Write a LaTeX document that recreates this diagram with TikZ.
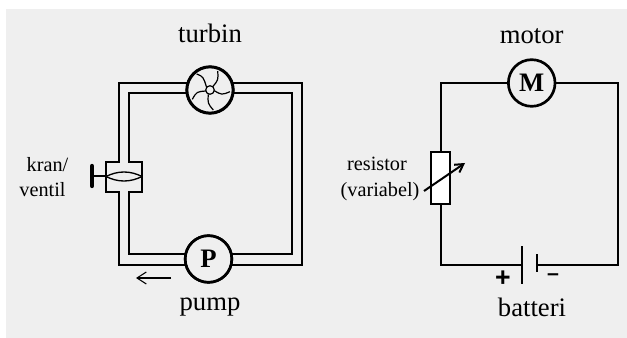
\documentclass[tikz,border=0pt]{standalone}
\usepackage{fontspec}
\setmainfont{Liberation Serif}
\newfontfamily\signfont{Liberation Sans}
\usetikzlibrary{arrows.meta}
\definecolor{bgc}{HTML}{EFEFEF}
\tikzset{
  x=0.75pt,y=-0.75pt,
  wire/.style={line width=1.5pt,line join=miter},
  unit/.style={circle,draw,fill=bgc,line width=2pt,minimum size=35pt,inner sep=0pt,outer sep=0pt,font=\fontsize{20}{22}\selectfont\bfseries},
  biglabel/.style={anchor=base,inner sep=0pt,font=\fontsize{20}{22}\selectfont},
  smalllabel/.style={anchor=base,inner sep=0pt,font=\fontsize{15.2}{17}\selectfont},
  blade/.style={line width=0.9pt},
}
\begin{document}
\begin{tikzpicture}
\useasboundingbox (0,0) rectangle (627,338);
\fill[bgc] (6,9) rectangle (627,338);
% left: nodes
\node[unit] (turb) at (210,90) {};
\node[unit] (pump) at (208.5,259) {P};
\coordinate (ot) at (118.5,83);
\coordinate (ob) at (118.5,264.5);
\coordinate (it) at (128.5,93);
\coordinate (ib) at (128.5,254);
\coordinate (vtl) at (106,162.5);
\coordinate (vtr) at (142,162.5);
\coordinate (vbl) at (106,192.3);
\coordinate (vbr) at (142,192.3);
\coordinate (orc) at (302,83);
\coordinate (orb) at (302,264.5);
\coordinate (irc) at (292,93);
\coordinate (irb) at (292,254);
% pipes
\begin{scope}[wire]
\draw (turb.west|-ot) -- (ot) -- (ot|-vtl) -- (vtl) -- (vbl) -- (ob|-vbl) -- (ob) -- (pump.west|-ob);
\draw (turb.west|-it) -- (it) -- (it|-vtr) -- (vtr) -- (vbr) -- (ib|-vbr) -- (ib) -- (pump.west|-ib);
\draw (turb.east|-orc) -- (orc) -- (orb) -- (pump.east|-orb);
\draw (turb.east|-irc) -- (irc) -- (irb) -- (pump.east|-irb);
\end{scope}
% turbine
\begin{scope}[shift={(210,90)},blade]
\fill[bgc] (0,0) circle[radius=22];
\draw[line width=2pt] (0,0) circle[radius=23];
\draw (0,0) circle[radius=4.3];
\draw (2.7,-3.3) .. controls (8.3,-10) .. (7.7,-19);
\draw (-3.3,-2.3) .. controls (-6.7,-13.3) .. (-13.3,-16);
\draw (-4,1) .. controls (-13.3,1.7) .. (-17.7,9.3);
\draw (-1.7,4.3) .. controls (-2.3,13.3) .. (3.3,20);
\draw (4.3,0.7) .. controls (11.7,5) .. (20,1.7);
\end{scope}
\fill[bgc] (pump) circle[radius=22];
\draw[line width=2pt] (pump) circle[radius=23.3];
\node[inner sep=0pt,font=\fontsize{20}{22}\selectfont\bfseries] (pumpl) at (pump) {P};
% valve
\coordinate (vl) at (106,176.5);
\coordinate (vr) at (142,176.5);
\coordinate (hc) at (92,176.5);
\draw[line width=1pt] (vl) .. controls (118,170.5) and (130,170.5) .. (vr);
\draw[line width=1pt] (vl) .. controls (118,182.5) and (130,182.5) .. (vr);
\draw[wire] (hc) -- (vl);
\draw[line width=3.2pt,line cap=round] (92,166) -- (92,186);
% flow arrow
\coordinate (fa) at (171,278);
\coordinate (fb) at (136,278);
\draw[line width=0.8pt,-{Straight Barb[length=7pt,width=9pt]}] (fa) -- (fb);
% labels left
\node[biglabel] (lt) at (210,43) {turbin};
\node[biglabel] (lp) at (210,310) {pump};
\node[smalllabel] (lk) at (47.5,172) {kran/};
\node[smalllabel] (lv) at (42.5,197) {ventil};
% right: nodes
\node[unit] (mot) at (531.7,83) {M};
\node[draw,fill=white,line width=1.5pt,minimum width=14.25pt,minimum height=39pt,inner sep=0pt,outer sep=0pt] (res) at (440.5,178) {};
\coordinate (batp) at (522,265);
\coordinate (batm) at (537,265);
\coordinate (tr) at (618,83);
\draw[wire] (mot.west) -| (res.north);
\draw[wire] (res.south) |- (batp);
\draw[wire] (mot.east) -- (tr) |- (batm);
\draw[line width=2pt] (522,246) -- (522,284);
\draw[line width=2pt] (537,254) -- (537,272);
\coordinate (ra) at (424,191);
\coordinate (rb) at (465,163);
\draw[line width=1.5pt,-{Straight Barb[length=6pt,width=7pt]}] (ra) -- (rb);
\node[biglabel] (lm) at (531.7,44) {motor};
\node[biglabel] (lb) at (532,316) {batteri};
\node[smalllabel] (lr) at (377,171) {resistor};
\node[smalllabel] (lw) at (380,197) {(variabel)};
\node[inner sep=0pt,font=\signfont\bfseries\fontsize{20}{20}\selectfont] (pl) at (503,279) {+};
\node[inner sep=0pt,font=\signfont\bfseries\fontsize{16}{16}\selectfont] (mi) at (553,277) {–};
\end{tikzpicture}
\end{document}
